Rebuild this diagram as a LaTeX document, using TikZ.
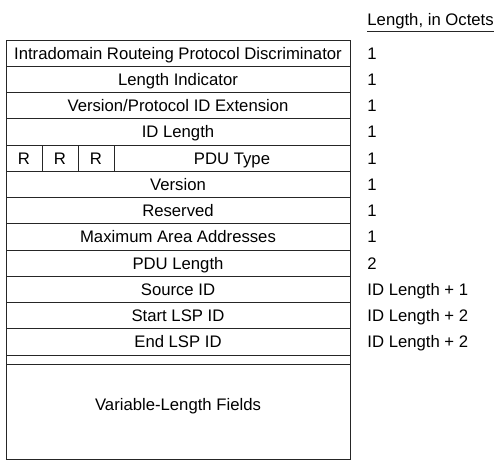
\documentclass[tikz,border=0pt]{standalone}
\usepackage{fontspec}
\setmainfont{Liberation Sans}
\usepackage{tikz}

\begin{document}
\begin{tikzpicture}[x=1pt, y=-1pt, line width=.9pt,
    field/.style={draw=black!85, minimum height=26.25pt, inner sep=0pt, text height=12pt, text depth=0pt, font=\fontsize{16.7}{19}\selectfont},
    octets/.style={anchor=west, inner sep=0pt, text height=12pt, text depth=0pt, font=\fontsize{16.7}{19}\selectfont}]
    \useasboundingbox (0, 0) rectangle (500, 470);

    % header
    \node[octets, anchor=base west] (hdr) at (367, 26) {Length, in Octets};
    \draw[black!85, line width=.7pt] ([yshift=-5pt]hdr.base west) -- ([yshift=-5pt]hdr.base east);

    % fixed header fields
    \node[field, minimum width=344pt] (irpd) at (178, 53.1) {Intradomain Routeing Protocol Discriminator};
    \node[field, minimum width=344pt] (li) at (178, 79.4) {Length Indicator};
    \node[field, minimum width=344pt] (ver) at (178, 105.6) {Version/Protocol ID Extension};
    \node[field, minimum width=344pt] (idl) at (178, 131.9) {ID Length};
    % reserved bits and pdu type
    \node[field, minimum width=36pt] (r1) at (24, 158.1) {R};
    \node[field, minimum width=36pt] (r2) at (60, 158.1) {R};
    \node[field, minimum width=36pt] (r3) at (96, 158.1) {R};
    \node[field, minimum width=236pt] (pdut) at (232, 158.1) {PDU Type};
    \node[field, minimum width=344pt] (vers) at (178, 184.4) {Version};
    \node[field, minimum width=344pt] (res) at (178, 210.6) {Reserved};
    \node[field, minimum width=344pt] (maa) at (178, 236.9) {Maximum Area Addresses};
    \node[field, minimum width=344pt] (pdul) at (178, 263.1) {PDU Length};
    \node[field, minimum width=344pt] (src) at (178, 289.4) {Source ID};
    \node[field, minimum width=344pt] (slsp) at (178, 315.6) {Start LSP ID};
    \node[field, minimum width=344pt] (elsp) at (178, 341.9) {End LSP ID};
    % thin gap row
    \node[field, minimum width=344pt, minimum height=9pt, text height=0pt] (gap) at (178, 359.5) {};
    % variable part
    \node[field, minimum width=344pt, minimum height=95pt, text height=0pt] (vlf) at (178, 411.5) {};
    \node[octets, anchor=center] (vlft) at (178, 404) {Variable-Length Fields};

    % lengths in octets
    \node[octets] (o1) at (367, 53.1) {1};
    \node[octets] (o2) at (367, 79.4) {1};
    \node[octets] (o3) at (367, 105.6) {1};
    \node[octets] (o4) at (367, 131.9) {1};
    \node[octets] (o5) at (367, 158.1) {1};
    \node[octets] (o6) at (367, 184.4) {1};
    \node[octets] (o7) at (367, 210.6) {1};
    \node[octets] (o8) at (367, 236.9) {1};
    \node[octets] (o9) at (367, 263.1) {2};
    \node[octets] (o10) at (367, 289.4) {ID Length + 1};
    \node[octets] (o11) at (367, 315.6) {ID Length + 2};
    \node[octets] (o12) at (367, 341.9) {ID Length + 2};
\end{tikzpicture}
\end{document}
